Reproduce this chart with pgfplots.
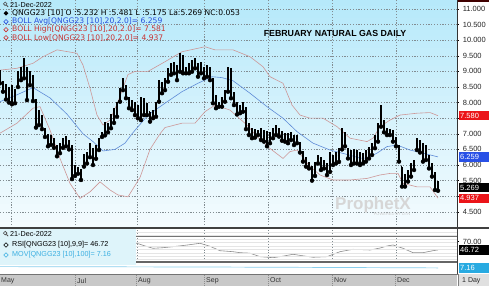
\documentclass[border=0pt]{standalone}
\usepackage{pgfplots}
\pgfplotsset{compat=1.18}
\usepackage{pgfplotstable}
\usepackage{fontspec}
\setmainfont{Liberation Sans}
\newfontfamily\dv{DejaVu Sans}
\usetikzlibrary{calc}

\definecolor{bgtop}{RGB}{182,233,250}
\definecolor{bgbot}{RGB}{244,251,254}
\definecolor{gridc}{RGB}{130,140,145}
\definecolor{avgline}{RGB}{95,140,215}
\definecolor{bandline}{RGB}{205,150,150}
\definecolor{tagred}{RGB}{235,20,25}
\definecolor{tagblue}{RGB}{40,80,230}
\definecolor{tagcyan}{RGB}{40,170,225}
\definecolor{avgtext}{RGB}{40,80,220}
\definecolor{redtext}{RGB}{200,50,50}
\definecolor{datebar}{RGB}{200,200,200}
\definecolor{legbg}{RGB}{222,244,250}
\definecolor{movc}{RGB}{60,175,225}

\pgfdeclareplotmark{otick}{\pgfpathmoveto{\pgfqpoint{-1.4pt}{0pt}}\pgfpathlineto{\pgfqpoint{0pt}{0pt}}\pgfusepathqstroke}
\pgfdeclareplotmark{ctick}{\pgfpathmoveto{\pgfqpoint{0pt}{0pt}}\pgfpathlineto{\pgfqpoint{1.4pt}{0pt}}\pgfusepathqstroke}

\newcommand\lf{\fontsize{7.2}{8}\selectfont}
\newcommand\df{\dv\fontsize{7.6}{8}\selectfont}
\newcommand\tf{\fontsize{7.5}{8}\selectfont}

\pgfplotstableread{
x o h l c
0 8.95 9.05 8.62 8.70
3 8.65 8.70 8.35 8.45
6 8.45 8.60 8.10 8.20
9 8.25 8.50 8.00 8.40
12 8.40 8.55 7.95 8.05
15 8.10 8.45 7.98 8.35
18 8.55 9.00 8.50 8.90
21 8.85 9.15 8.72 9.05
24 9.00 9.42 8.78 9.30
27 9.05 9.15 8.08 8.30
30 8.60 9.00 8.56 8.90
33 8.85 8.90 8.05 8.15
36 8.05 8.10 7.20 7.35
39 7.35 7.75 7.28 7.60
42 7.50 7.60 7.15 7.25
45 7.15 7.20 6.90 6.95
48 6.95 7.00 6.60 6.70
51 6.75 6.95 6.65 6.85
54 6.80 6.85 6.55 6.60
57 6.60 6.64 6.28 6.35
60 6.40 6.72 6.38 6.65
63 6.60 6.86 6.55 6.80
66 6.80 6.92 6.60 6.70
69 6.70 6.80 6.50 6.55
72 6.55 6.64 5.55 5.65
75 5.70 6.00 5.65 5.90
78 5.90 5.95 5.72 5.78
81 5.80 5.88 5.52 5.60
84 5.95 6.35 5.95 6.30
87 6.30 6.43 6.05 6.15
90 6.25 6.70 6.25 6.60
93 6.50 6.55 6.00 6.10
96 6.20 6.64 6.20 6.55
99 6.55 6.86 6.48 6.80
102 6.92 7.07 6.90 7.00
105 7.00 7.38 6.95 7.30
108 7.30 7.34 7.05 7.15
111 7.20 7.65 7.18 7.55
114 7.50 7.82 7.35 7.70
117 7.60 8.03 7.55 7.98
120 8.05 8.46 8.03 8.40
123 8.45 8.78 8.40 8.60
126 8.50 8.56 8.14 8.20
129 8.15 8.19 7.82 7.90
132 7.90 8.08 7.76 8.00
135 7.95 8.03 7.60 7.70
138 7.70 7.92 7.50 7.60
141 7.55 8.19 7.44 8.10
144 8.05 8.14 7.60 7.70
147 7.70 7.98 7.60 7.90
150 7.70 7.71 7.39 7.45
153 7.50 7.76 7.50 7.70
156 7.70 8.03 7.55 7.95
159 8.05 8.72 8.03 8.65
162 8.60 8.67 8.30 8.35
165 8.40 8.78 8.40 8.70
168 8.70 9.10 8.67 9.00
171 9.00 9.26 8.89 9.20
174 9.20 9.31 8.94 9.00
177 9.00 9.21 8.72 8.85
180 9.05 9.58 8.99 9.45
183 9.40 9.53 8.94 9.05
186 9.05 9.15 8.94 9.10
189 9.00 9.26 8.94 9.20
192 9.20 9.37 8.99 9.10
195 9.15 9.42 9.10 9.35
198 9.25 9.26 8.83 8.90
201 8.95 9.31 8.94 9.20
204 9.10 9.15 8.78 8.85
207 8.90 9.21 8.83 9.15
210 9.10 9.15 8.72 8.80
213 8.75 8.78 7.98 8.05
216 8.10 8.24 7.82 7.90
219 7.90 8.03 7.87 7.95
222 7.95 8.19 7.87 8.10
225 8.10 8.40 8.03 8.30
228 8.35 9.15 8.35 9.05
231 9.00 9.10 8.14 8.20
234 8.20 8.35 7.92 8.00
237 8.00 8.03 7.62 7.75
240 7.75 7.92 7.66 7.85
243 7.85 8.03 7.71 7.80
246 7.80 7.87 7.15 7.20
249 7.20 7.34 6.96 7.10
252 7.05 7.18 6.86 6.95
255 6.95 7.15 6.88 7.10
258 7.05 7.12 6.96 7.00
261 7.00 7.18 6.80 6.90
264 6.90 7.12 6.75 7.05
267 7.05 7.10 6.60 6.70
270 6.70 7.07 6.70 7.00
273 7.00 7.18 6.86 7.10
276 7.10 7.28 6.96 7.05
279 7.05 7.18 6.91 7.00
282 7.00 7.10 6.78 6.85
285 6.85 7.02 6.75 6.95
288 6.95 7.02 6.70 6.80
291 6.80 7.07 6.80 7.00
294 6.95 6.96 6.64 6.75
297 6.90 6.96 6.70 6.75
300 6.70 6.75 6.40 6.45
303 6.40 6.45 6.11 6.20
306 6.20 6.27 5.95 6.00
309 6.00 6.11 5.89 5.95
312 5.95 5.98 5.50 5.60
315 5.65 6.10 5.65 6.05
318 6.05 6.32 6.05 6.20
321 6.20 6.27 5.84 5.90
324 5.90 6.16 5.89 6.10
327 6.05 6.08 5.68 5.75
330 5.80 6.43 5.78 6.35
333 6.30 6.32 6.00 6.05
336 6.05 6.43 6.05 6.35
339 6.30 6.54 6.10 6.45
342 6.50 7.18 6.50 7.00
345 7.00 7.05 6.60 6.70
348 6.50 6.54 6.21 6.30
351 6.30 6.48 6.00 6.10
354 6.10 6.52 6.05 6.40
357 6.40 6.48 6.05 6.10
360 6.10 6.43 6.00 6.35
363 6.35 6.37 6.05 6.10
366 6.15 6.48 6.11 6.40
369 6.40 6.59 6.21 6.30
372 6.35 6.70 6.32 6.60
375 6.60 6.96 6.54 6.90
378 6.90 7.34 6.75 7.25
381 7.30 7.92 7.23 7.45
384 7.40 7.44 7.05 7.15
387 7.15 7.18 6.96 7.10
390 7.10 7.15 6.96 7.00
393 7.00 7.12 6.75 6.85
396 6.85 6.90 6.60 6.65
399 6.60 6.64 6.11 6.15
402 5.95 5.95 5.31 5.40
405 5.40 5.70 5.31 5.60
408 5.60 5.84 5.47 5.75
411 5.75 6.05 5.63 6.00
414 6.00 6.16 5.84 6.10
417 6.55 6.86 6.48 6.75
420 6.75 6.80 6.40 6.50
423 6.50 6.70 6.11 6.20
426 6.25 6.65 6.16 6.50
429 6.30 6.32 5.89 5.95
432 5.95 6.05 5.63 5.70
435 5.70 5.79 5.20 5.25
438 5.232 5.481 5.175 5.269
}\bars

\pgfplotstableread{
x v
0 8.03
17 8.25
33 8.48
50 8.15
67 7.63
83 7.00
93 6.75
103 6.45
115 6.50
125 6.70
132 7.00
140 7.30
148 7.60
165 7.98
182 8.35
198 8.62
212 8.83
222 8.80
233 8.70
250 8.30
267 7.87
283 7.50
297 7.07
313 6.70
330 6.48
348 6.33
360 6.22
367 6.22
377 6.38
387 6.59
397 6.64
410 6.48
423 6.38
438 6.259
}\bavg

\pgfplotstableread{
x v
0 9.04
17 9.10
33 9.26
43 9.47
57 9.69
77 9.58
83 9.20
90 8.46
97 7.60
103 7.28
110 7.44
118 8.03
128 8.90
135 9.00
148 9.00
165 9.31
182 9.63
205 9.79
215 9.69
233 9.69
250 9.47
263 9.15
270 8.83
283 8.62
292 7.92
300 7.60
310 7.50
323 7.50
337 7.23
350 6.86
367 6.75
373 6.86
380 7.23
390 7.44
400 7.60
417 7.66
430 7.68
438 7.581
}\bhigh

\pgfplotstableread{
x v
0 7.02
17 7.34
33 7.82
40 7.87
50 7.12
60 6.21
70 5.41
80 4.93
90 5.14
100 5.46
110 5.20
118 5.04
128 4.98
140 5.60
150 6.50
160 7.00
165 7.20
182 7.34
195 7.34
205 7.71
215 7.92
230 7.76
247 7.28
257 6.91
270 6.53
283 6.21
290 6.43
297 6.48
310 5.95
320 5.68
333 5.52
350 5.52
367 5.57
380 5.68
390 5.73
398 5.73
403 5.41
417 5.30
430 5.30
438 4.937
}\blow

\pgfplotstableread{
x v
130 66.0
137 65.5
145 58.0
153 51.3
163 53.0
173 55.9
187 60.5
200 65.5
210 57.0
220 44.5
233 41.7
240 38.9
250 37.5
260 27.6
273 24.7
283 29.0
293 34.3
303 30.0
313 25.9
327 27.6
340 41.7
353 48.5
370 46.5
380 52.0
387 57.8
393 60.7
403 51.3
413 38.9
423 38.9
433 44.5
438 46.72
}\rsi

\pgfplotstableread{
x v
0 7.30
100 7.28
200 7.26
300 7.22
400 7.18
438 7.16
}\mov

\newcommand\rtag[3]{%
  \fill[#2] ($(#1)+(1.5pt,-4.6pt)$) rectangle ($(#1)+(32pt,4.6pt)$);
  \node[anchor=west, text=white, inner sep=0pt, font=\tf] at ($(#1)+(3pt,0)$) {#3};}

\newcommand\ldiam[3]{%
  \draw[#3, line width=0.6pt] (#1pt,#2pt+2.2pt) -- (#1pt+2.2pt,#2pt) -- (#1pt,#2pt-2.2pt) -- (#1pt-2.2pt,#2pt) -- cycle;}

\begin{document}
\begin{tikzpicture}[x=1pt,y=1pt]
\path[use as bounding box] (0,0) rectangle (489,286);
\fill[white] (0,0) rectangle (489,286);
% background of the price panel, banded from cyan (top) to near white (bottom)
\foreach \i in {0,...,37} {
  \pgfmathtruncatemacro\p{round(100*\i/37)}
  \fill[bgtop!\p!bgbot] (0,{58+6*\i}) rectangle (457,{58+6*\i+6.3});
}

% ---------------- main panel
\begin{axis}[name=main, at={(0pt,58pt)}, anchor=south west, scale only axis,
  width=457pt, height=228pt,
  xmin=0, xmax=457, ymin=3.981, ymax=11.288,
  axis line style={draw=none},
  xtick={11,75,137,204,268,332,396}, xticklabels={},
  ytick={4.5,5,5.5,6,6.5,7,7.5,8,8.5,9,9.5,10,10.5,11},
  yticklabels={4.500,,5.500,6.000,6.500,7.000,,8.000,8.500,9.000,9.500,10.000,10.500,11.000},
  grid=major, major grid style={gridc, dash pattern=on 1.2pt off 1.6pt, line width=0.4pt},
  ytick pos=right, yticklabel pos=right,
  xtick style={draw=none}, ytick style={black, line width=0.4pt},
  tick align=outside, major tick length=2pt,
  yticklabel style={font=\tf, text=black!85, xshift=0.3pt},
  clip=false]
\addplot[bandline, line width=0.6pt] table[x=x,y=v] {\bhigh};
\addplot[bandline, line width=0.6pt] table[x=x,y=v] {\blow};
\addplot[avgline, line width=0.6pt] table[x=x,y=v] {\bavg};
\addplot[only marks, mark=none, black, error bars/.cd, y dir=plus, y explicit, error mark=none,
  error bar style={draw=black, line width=1.1pt}]
  table[x=x, y=l, y error plus expr=\thisrow{h}-\thisrow{l}] {\bars};
\addplot[only marks, mark=otick, mark options={line width=1pt, black}] table[x=x,y=o] {\bars};
\addplot[only marks, mark=ctick, mark options={line width=1pt, black}] table[x=x,y=c] {\bars};
\coordinate (t1) at (axis cs:457,7.580);
\coordinate (t2) at (axis cs:457,6.259);
\coordinate (t3) at (axis cs:457,5.269);
\coordinate (t4) at (axis cs:457,4.937);
\end{axis}
\draw[black!80, line width=0.5pt] (457.5,58) -- (457.5,286);
\fill[black!75!red] (458,283.5) rectangle (489,286);

% watermark
\node[font=\bfseries\fontsize{17}{18}\selectfont, text=black!16, anchor=center] at (373,81) {ProphetX};
\node[font=\fontsize{4}{5}\selectfont, text=black!20, anchor=center] at (392,71.5) {POWERED BY DTN};

% title
\node[font=\bfseries\fontsize{8.8}{10}\selectfont, anchor=center] at (335,253) {FEBRUARY NATURAL GAS DAILY};

% main legend
\draw[black!70, line width=0.6pt] (5.2,282.2) circle (1.8);
\draw[black!70, line width=0.8pt] (6.5,280.8) -- (8.2,279.1);
\node[font=\lf, anchor=west, inner sep=0pt] at (10,281.3) {21-Dec-2022};
\fill[black] (6,275) -- (8.3,272.7) -- (6,270.4) -- (3.7,272.7) -- cycle;
\node[font=\df, anchor=west, inner sep=0pt] at (12,272.7) {QNGG23 [10] O :5.232 H :5.481 L :5.175 La:5.269 NC:0.053};
\ldiam{6}{264.3}{avgtext}
\node[font=\df, anchor=west, inner sep=0pt, text=avgtext] at (12,264.3) {BOLL Avg[QNGG23 [10],20,2.0]= 6.259};
\ldiam{6}{256.3}{redtext}
\node[font=\df, anchor=west, inner sep=0pt, text=redtext] at (12,256.3) {BOLL High[QNGG23 [10],20,2.0]= 7.581};
\ldiam{6}{248.3}{redtext}
\node[font=\df, anchor=west, inner sep=0pt, text=redtext] at (12,248.3) {BOLL Low[QNGG23 [10],20,2.0]= 4.937};

% ---------------- RSI panel
\begin{axis}[at={(0pt,24pt)}, anchor=south west, scale only axis,
  width=457pt, height=34pt,
  xmin=0, xmax=457, ymin=12.5, ymax=108.8,
  axis line style={draw=none},
  xtick={11,75,137,204,268,332,396}, xticklabels={},
  ytick={70}, yticklabels={70.00},
  xmajorgrids=true, ymajorgrids=false,
  major grid style={gridc, dash pattern=on 1.2pt off 1.6pt, line width=0.4pt},
  ytick pos=right, yticklabel pos=right,
  xtick style={draw=none}, ytick style={black, line width=0.4pt},
  tick align=outside, major tick length=2pt,
  yticklabel style={font=\tf, text=black!85, xshift=0.3pt},
  clip=false]
\addplot[black!45, line width=0.6pt] table[x=x,y=v] {\rsi};
\coordinate (r1) at (axis cs:457,46.72);
\end{axis}
\foreach \yy in {54,51,47,44,40,37,33,30,27} {\draw[black!10, line width=0.3pt] (0,\yy) -- (457,\yy);}
\draw[black!55, line width=0.9pt] (0,49.3) -- (457,49.3);
\draw[black!60, line width=1.2pt] (0,24) -- (457,24);
\draw[black!75, line width=1.6pt] (0,58) -- (489,58);

% ---------------- MOV panel
\begin{axis}[at={(0pt,12pt)}, anchor=south west, scale only axis,
  width=457pt, height=12pt,
  xmin=0, xmax=457, ymin=6.5, ymax=7.8,
  axis line style={draw=none}, ticks=none, clip=false]
\addplot[movc!60, line width=0.7pt] table[x=x,y=v] {\mov};
\coordinate (m1) at (axis cs:457,7.16);
\end{axis}

% legend box of lower panels
\fill[legbg] (0,21) rectangle (136,57);
\draw[black!70, line width=0.6pt] (5.2,52.9) circle (1.8);
\draw[black!70, line width=0.8pt] (6.5,51.5) -- (8.2,49.8);
\node[font=\lf, anchor=west, inner sep=0pt] at (10,52) {21-Dec-2022};
\ldiam{6}{41}{black}
\node[font=\lf, anchor=west, inner sep=0pt] at (12,41) {RSI[QNGG23 [10],9,9]= 46.72};
\ldiam{6}{31}{movc}
\node[font=\lf, anchor=west, inner sep=0pt, text=movc] at (12,31) {MOV[QNGG23 [10],100]= 7.16};
\draw[black!75, line width=0.5pt] (457.5,12) -- (457.5,58);

% ---------------- date bar
\fill[datebar] (0,0) rectangle (457,12);
\draw[black!55, line width=0.6pt] (0,12) -- (489,12);
\foreach \xx in {75,136,204,268,332,395} {\draw[black!45, dash pattern=on 1pt off 1pt, line width=0.5pt] (\xx,0) -- (\xx,12);}
\foreach \xx/\lab in {1/May,77/Jul,138/Aug,206/Sep,270/Oct,334/Nov,397/Dec}
  {\node[font=\fontsize{7}{8}\selectfont, text=black!80, anchor=west, inner sep=0pt] at (\xx,5.5) {\lab};}
\fill[black!12] (458,0) rectangle (489,12);
\draw[black!50, line width=0.5pt] (458,0) -- (458,12);
\node[font=\fontsize{7}{8}\selectfont, text=black!85, anchor=west, inner sep=0pt] at (462,5.5) {1 Day};

% ---------------- value tags
\rtag{t1}{tagred}{7.580}
\rtag{t2}{tagblue}{6.259}
\rtag{t3}{black}{5.269}
\rtag{t4}{tagred}{4.937}
\rtag{r1}{black}{46.72}
\rtag{m1}{tagcyan}{7.16}
\end{tikzpicture}
\end{document}
